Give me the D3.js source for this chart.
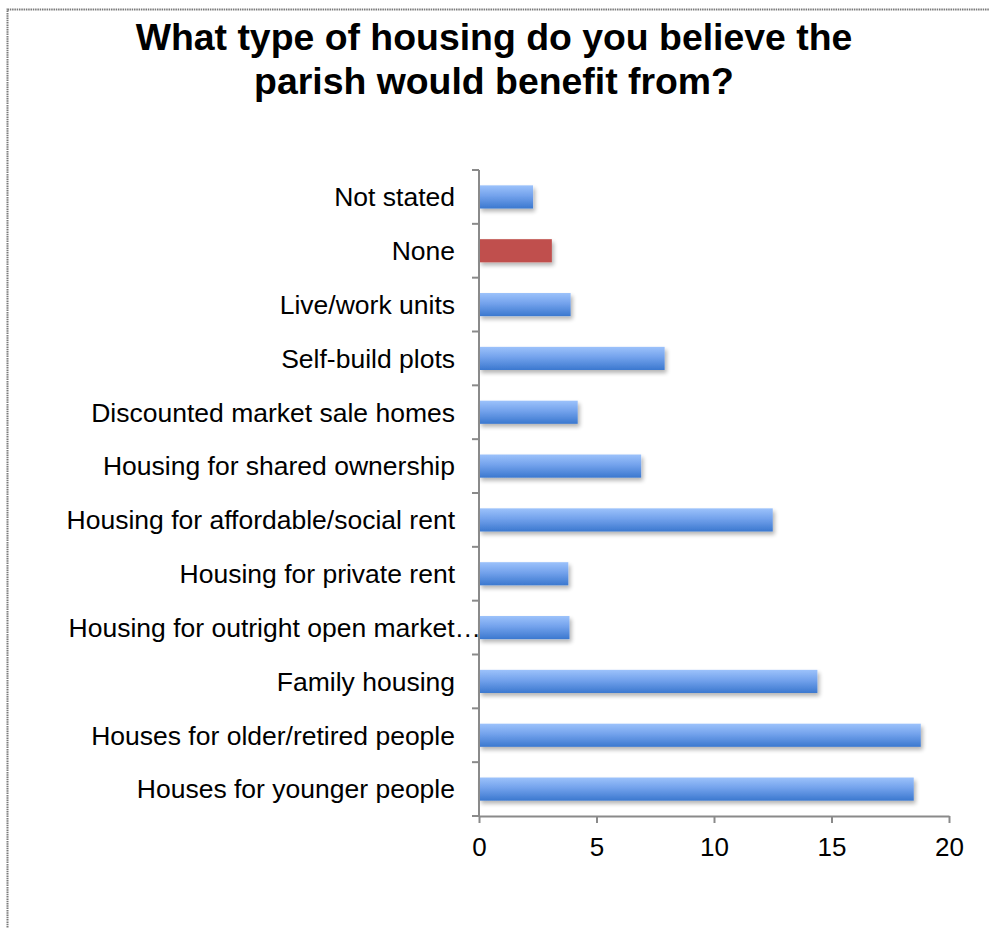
<!DOCTYPE html>
<html>
<head>
<meta charset="utf-8">
<script src="https://cdn.jsdelivr.net/npm/d3@7"></script>
<style>
  html, body { margin: 0; padding: 0; background: #fff; }
  svg { display: block; }
</style>
</head>
<body>
<svg id="chart" width="989" height="928"></svg>
<script>
// Survey responses, listed top to bottom as drawn
const categories = [
  "Not stated",
  "None",
  "Live/work units",
  "Self-build plots",
  "Discounted market sale homes",
  "Housing for shared ownership",
  "Housing for affordable/social rent",
  "Housing for private rent",
  "Housing for outright open market…",
  "Family housing",
  "Houses for older/retired people",
  "Houses for younger people"
];
const responses = [2.3, 3.1, 3.9, 7.9, 4.2, 6.9, 12.5, 3.8, 3.85, 14.4, 18.8, 18.5];
const highlighted = ["None"];
const xTicks = [0, 5, 10, 15, 20];
const titleLines = ["What type of housing do you believe the", "parish would benefit from?"];

const svg = d3.select("#chart");
const font = "'Liberation Sans', Arial, sans-serif";

// Outer frame (dotted grey)
svg.append("rect")
  .attr("x", 7.5).attr("y", 9.5)
  .attr("width", 1000).attr("height", 1000)
  .attr("fill", "none")
  .attr("stroke", "#7a7a7a")
  .attr("stroke-width", 2)
  .attr("stroke-dasharray", "1.5,0.8");

// Title
svg.append("text")
  .attr("text-anchor", "middle")
  .attr("font-family", font)
  .attr("font-weight", "bold")
  .attr("font-size", 37.4)
  .attr("fill", "#000")
  .selectAll("tspan")
  .data(titleLines)
  .join("tspan")
  .attr("x", 494)
  .attr("y", (d, i) => 50 + i * 44)
  .text(d => d);

const plot = { left: 479, right: 949, top: 170, bottom: 816 };

const x = d3.scaleLinear().domain([0, 20]).range([plot.left, plot.right]);
const y = d3.scaleBand().domain(categories).range([plot.top, plot.bottom]).paddingInner(0.57).paddingOuter(0.285);

// Gradient and shadow definitions
const defs = svg.append("defs");
const grad = defs.append("linearGradient")
  .attr("id", "barBlue").attr("x1", 0).attr("y1", 0).attr("x2", 0).attr("y2", 1);
grad.append("stop").attr("offset", "0%").attr("stop-color", "#9cc2fb");
grad.append("stop").attr("offset", "45%").attr("stop-color", "#73a2ec");
grad.append("stop").attr("offset", "100%").attr("stop-color", "#3b78cf");

const shadow = defs.append("filter").attr("id", "barShadow")
  .attr("x", "-5%").attr("y", "-20%").attr("width", "120%").attr("height", "180%");
shadow.append("feGaussianBlur").attr("in", "SourceAlpha").attr("stdDeviation", 2);
shadow.append("feOffset").attr("dx", 2).attr("dy", 3).attr("result", "off");
shadow.append("feComponentTransfer").append("feFuncA").attr("type", "linear").attr("slope", 0.3);
const merge = shadow.append("feMerge");
merge.append("feMergeNode");
merge.append("feMergeNode").attr("in", "SourceGraphic");

// Bars
svg.append("g")
  .selectAll("rect")
  .data(categories.map((c, i) => ({ c, v: responses[i] })))
  .join("rect")
  .attr("x", x(0))
  .attr("y", d => y(d.c))
  .attr("width", d => x(d.v) - x(0))
  .attr("height", y.bandwidth())
  .attr("fill", d => highlighted.includes(d.c) ? "#c0504d" : "url(#barBlue)")
  .attr("filter", "url(#barShadow)");

const axisColor = "#8a8a8a";

// Category axis (left)
const yAxis = svg.append("g")
  .attr("transform", `translate(${plot.left},0)`)
  .call(d3.axisLeft(y).tickSize(0).tickPadding(24));
yAxis.select(".domain").remove();
yAxis.selectAll("text")
  .attr("font-family", font).attr("font-size", 26.5).attr("fill", "#000")
  .attr("dy", "0.35em");
// A clipped label runs on past the usual label edge up to the axis
yAxis.selectAll("text")
  .filter(d => d.endsWith("…"))
  .attr("x", 2);

// Boundary tick marks between categories
const boundaries = categories.map(c => y(c) - y.step() * y.paddingInner() / 2).concat([plot.bottom]);
svg.append("g").selectAll("line")
  .data(boundaries)
  .join("line")
  .attr("x1", plot.left - 7).attr("x2", plot.left)
  .attr("y1", d => d).attr("y2", d => d)
  .attr("stroke", axisColor).attr("stroke-width", 2);
svg.append("line")
  .attr("x1", plot.left).attr("x2", plot.left)
  .attr("y1", plot.top).attr("y2", plot.bottom + 1)
  .attr("stroke", axisColor).attr("stroke-width", 2);

// Value axis (bottom)
const xAxis = svg.append("g")
  .attr("transform", `translate(0,${plot.bottom})`)
  .call(d3.axisBottom(x).tickValues(xTicks).tickSize(7).tickPadding(15).tickSizeOuter(0));
xAxis.select(".domain").attr("stroke", axisColor).attr("stroke-width", 2);
xAxis.selectAll(".tick line").attr("stroke", axisColor).attr("stroke-width", 2);
xAxis.selectAll("text")
  .attr("font-family", font).attr("font-size", 26).attr("fill", "#000");
</script>
</body>
</html>
